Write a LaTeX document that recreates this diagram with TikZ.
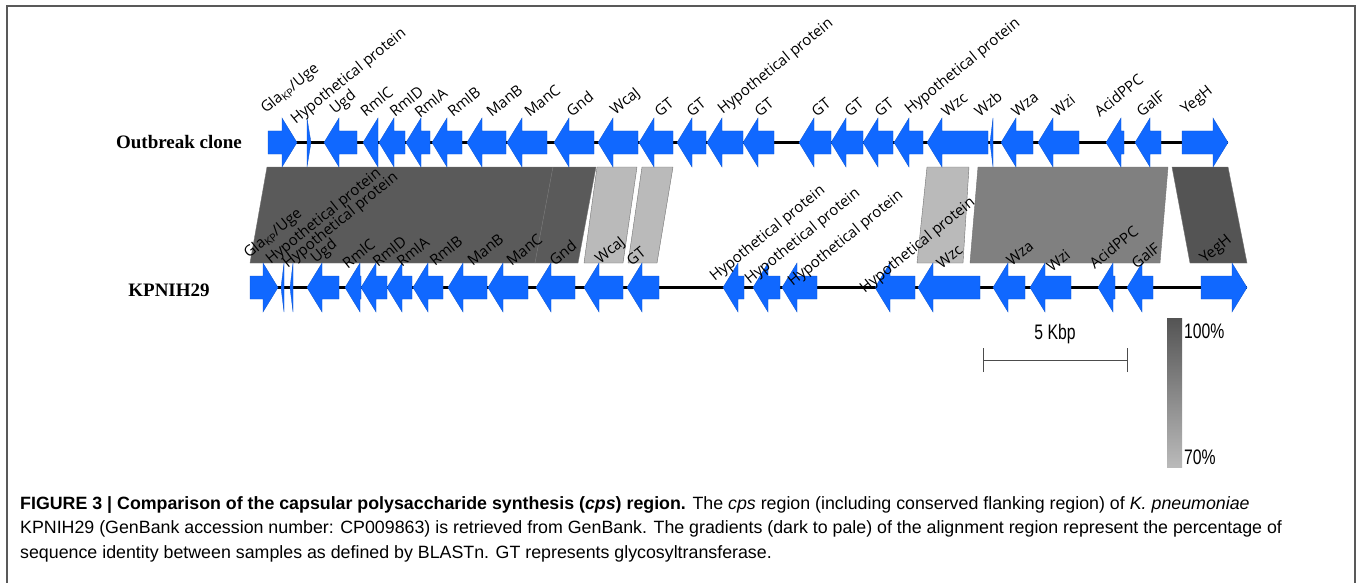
\documentclass[tikz,border=0pt]{standalone}
\usepackage{fontspec}
\newfontfamily\genefont{Open Sans}
\newfontfamily\trackfont{Liberation Serif}
\newfontfamily\capfont{Liberation Sans}
\newfontfamily\keyfont[FakeStretch=0.75]{Liberation Sans}
\definecolor{geneblue}{RGB}{16,104,255}
\definecolor{iddark}{RGB}{90,90,90}
\definecolor{iddarker}{RGB}{84,84,84}
\definecolor{idmid}{RGB}{128,128,128}
\definecolor{idpale}{RGB}{186,186,186}

% gene arrows: \lgene{tip}{end}{y}, \rgene{start}{tip}{y}
\newcommand{\lgene}[3]{%
  \pgfmathsetmacro{\gheadx}{min(#1+15,#2)}
  \fill[gene] (#1,#3) -- (\gheadx,#3-24.5) -- (\gheadx,#3-11.5) -- (#2,#3-11.5)
    -- (#2,#3+11.5) -- (\gheadx,#3+11.5) -- (\gheadx,#3+24.5) -- cycle;
}
\newcommand{\rgene}[3]{%
  \pgfmathsetmacro{\gheadx}{max(#2-15,#1)}
  \fill[gene] (#2,#3) -- (\gheadx,#3-24.5) -- (\gheadx,#3-11.5) -- (#1,#3-11.5)
    -- (#1,#3+11.5) -- (\gheadx,#3+11.5) -- (\gheadx,#3+24.5) -- cycle;
}

\begin{document}
\begin{tikzpicture}[x=1pt,y=-1pt]
        \tikzstyle{gene}=[geneblue, draw=geneblue!80!black, line width=0.3pt]
        \tikzstyle{track}=[black, line width=3pt]
        \tikzstyle{glabel}=[rotate=39, anchor=south west, inner sep=0pt, font=\genefont\fontsize{15}{18}\selectfont]
        \tikzstyle{trk}=[font=\trackfont\bfseries\fontsize{19}{22}\selectfont]
        \tikzstyle{hit}=[draw=black!55, line width=0.4pt]
        \tikzstyle{key}=[font=\keyfont\fontsize{21}{24}\selectfont, inner sep=0pt]

        \useasboundingbox (0,0) rectangle (1357,583);
        \draw[black!65, line width=1.5pt] (7,583) -- (7,6) -- (1355,6) -- (1355,583);

        % blast hits between the two tracks
        \filldraw[hit, fill=iddark]   (267,167) -- (553,167) -- (535,263) -- (250,263) -- cycle;
        \filldraw[hit, fill=iddark]   (553,167) -- (596,167) -- (578,263) -- (535,263) -- cycle;
        \filldraw[hit, fill=idpale]   (597,167) -- (637,167) -- (623,263) -- (584,263) -- cycle;
        \filldraw[hit, fill=idpale]   (642,167) -- (673,167) -- (657,263) -- (628,263) -- cycle;
        \filldraw[hit, fill=idpale]   (927,167) -- (969,167) -- (963,263) -- (917,263) -- cycle;
        \filldraw[hit, fill=idmid]    (978,167) -- (1168,167) -- (1160,263) -- (970,263) -- cycle;
        \filldraw[hit, fill=iddarker] (1172,167) -- (1228,167) -- (1247,263) -- (1190,263) -- cycle;

        % outbreak clone
        \node[trk] (outbreak) at (179,142) {Outbreak clone};
        \coordinate (o-start) at (268,142.5);
        \coordinate (o-end) at (1228,142.5);
        \draw[track] (o-start) -- (o-end);

        \rgene{268}{297}{142.5}  \rgene{307}{311}{142.5}  \lgene{324}{357}{142.5}
        \lgene{363}{378}{142.5}  \lgene{379}{405}{142.5}  \lgene{406}{430}{142.5}
        \lgene{432}{462}{142.5}  \lgene{467}{506}{142.5}  \lgene{507}{547}{142.5}
        \lgene{554}{594}{142.5}  \lgene{598}{638}{142.5}  \lgene{639}{673}{142.5}
        \lgene{677}{706}{142.5}  \lgene{707}{743}{142.5}  \lgene{743}{774}{142.5}
        \lgene{799}{831}{142.5}  \lgene{831}{863}{142.5}  \lgene{863}{893}{142.5}
        \lgene{894}{923}{142.5}  \lgene{927}{988}{142.5}  \lgene{990}{993}{142.5}
        \lgene{1001}{1033}{142.5} \lgene{1038}{1079}{142.5} \lgene{1106}{1124}{142.5}
        \lgene{1135}{1161}{142.5} \rgene{1182}{1228}{142.5}

        \node[glabel] (o-gla)  at (268,117) {Gla\textsubscript{KP}/Uge};
        \node[glabel] (o-hp1)  at (298,128) {Hypothetical protein};
        \node[glabel] (o-ugd)  at (337,118) {Ugd};
        \node[glabel] (o-rmlc) at (366,118) {RmlC};
        \node[glabel] (o-rmld) at (395,118) {RmlD};
        \node[glabel] (o-rmla) at (420,119) {RmlA};
        \node[glabel] (o-rmlb) at (453,118) {RmlB};
        \node[glabel] (o-manb) at (492,118) {ManB};
        \node[glabel] (o-manc) at (530,118) {ManC};
        \node[glabel] (o-gnd)  at (572,118) {Gnd};
        \node[glabel] (o-wcaj) at (617,118) {WcaJ};
        \node[glabel] (o-gt1)  at (660,118) {GT};
        \node[glabel] (o-gt2)  at (692,118) {GT};
        \node[glabel] (o-hp2)  at (725,118) {Hypothetical protein};
        \node[glabel] (o-gt3)  at (760,118) {GT};
        \node[glabel] (o-gt4)  at (817,118) {GT};
        \node[glabel] (o-gt5)  at (850,118) {GT};
        \node[glabel] (o-gt6)  at (880,118) {GT};
        \node[glabel] (o-hp3)  at (912,118) {Hypothetical protein};
        \node[glabel] (o-wzc)  at (947,118) {Wzc};
        \node[glabel] (o-wzb)  at (980,118) {Wzb};
        \node[glabel] (o-wza)  at (1017,118) {Wza};
        \node[glabel] (o-wzi)  at (1057,118) {Wzi};
        \node[glabel] (o-acid) at (1100,118) {AcidPPC};
        \node[glabel] (o-galf) at (1142,118) {GalF};
        \node[glabel] (o-yegh) at (1188,118) {YegH};

        % KPNIH29
        \node[trk] (kpnih) at (169,290) {KPNIH29};
        \coordinate (k-start) at (250,287.5);
        \coordinate (k-end) at (1247,287.5);
        \draw[track] (k-start) -- (k-end);

        \rgene{250}{278}{287.5}  \lgene{281}{284}{287.5}  \lgene{290}{293}{287.5}
        \lgene{307}{339}{287.5}  \lgene{345}{361}{287.5}  \lgene{361}{387}{287.5}
        \lgene{387}{412}{287.5}  \lgene{413}{443}{287.5}  \lgene{448}{487}{287.5}
        \lgene{488}{528}{287.5}  \lgene{536}{575}{287.5}  \lgene{584}{623}{287.5}
        \lgene{627}{659}{287.5}  \lgene{723}{744}{287.5}  \lgene{753}{780}{287.5}
        \lgene{782}{817}{287.5}  \lgene{875}{915}{287.5}  \lgene{918}{980}{287.5}
        \lgene{993}{1025}{287.5} \lgene{1030}{1071}{287.5} \lgene{1098}{1115}{287.5}
        \lgene{1127}{1153}{287.5} \rgene{1201}{1247}{287.5}

        \node[glabel] (k-gla)  at (251,262) {Gla\textsubscript{KP}/Uge};
        \node[glabel] (k-hp1)  at (273,268) {Hypothetical protein};
        \node[glabel] (k-hp2)  at (290,272) {Hypothetical protein};
        \node[glabel] (k-ugd)  at (318,267) {Ugd};
        \node[glabel] (k-rmlc) at (348,270) {RmlC};
        \node[glabel] (k-rmld) at (378,268) {RmlD};
        \node[glabel] (k-rmla) at (402,268) {RmlA};
        \node[glabel] (k-rmlb) at (435,267) {RmlB};
        \node[glabel] (k-manb) at (473,267) {ManB};
        \node[glabel] (k-manc) at (512,267) {ManC};
        \node[glabel] (k-gnd)  at (555,267) {Gnd};
        \node[glabel] (k-wcaj) at (602,267) {WcaJ};
        \node[glabel] (k-gt1)  at (632,267) {GT};
        \node[glabel] (k-hp3)  at (717,285) {Hypothetical protein};
        \node[glabel] (k-hp4)  at (752,288) {Hypothetical protein};
        \node[glabel] (k-hp5)  at (795,290) {Hypothetical protein};
        \node[glabel] (k-hp6)  at (867,297) {Hypothetical protein};
        \node[glabel] (k-wzc)  at (942,270) {Wzc};
        \node[glabel] (k-wza)  at (1012,267) {Wza};
        \node[glabel] (k-wzi)  at (1052,273) {Wzi};
        \node[glabel] (k-acid) at (1095,270) {AcidPPC};
        \node[glabel] (k-galf) at (1137,270) {GalF};
        \node[glabel] (k-yegh) at (1207,267) {YegH};

        % scale bar and identity key
        \coordinate (bar-l) at (983,360);
        \coordinate (bar-r) at (1127,360);
        \draw[black!70, line width=1pt] (bar-l) -- (bar-r);
        \draw[black!70, line width=1pt] ([yshift=-12pt]bar-l) -- ([yshift=12pt]bar-l);
        \draw[black!70, line width=1pt] ([yshift=-12pt]bar-r) -- ([yshift=12pt]bar-r);
        \node[key] (kbp) at (1055,334) {5 Kbp};
        \shade[top color=iddarker, bottom color=idpale] (1167,318) rectangle (1182,467);
        \node[key, anchor=west] (hi) at (1184,331) {100\%};
        \node[key, anchor=west] (lo) at (1184,457) {70\%};

        % caption
        \node[anchor=north west, align=left, inner sep=0pt, font=\capfont\fontsize{17.8}{24.5}\selectfont] (caption) at (20,496)
          {\textbf{FIGURE 3 | Comparison of the capsular polysaccharide synthesis (\textit{cps}) region.} The \textit{cps} region (including conserved flanking region) of \textit{K. pneumoniae}\\
           KPNIH29 (GenBank accession number: CP009863) is retrieved from GenBank. The gradients (dark to pale) of the alignment region represent the percentage of\\
           sequence identity between samples as defined by BLASTn. GT represents glycosyltransferase.};
\end{tikzpicture}
\end{document}
